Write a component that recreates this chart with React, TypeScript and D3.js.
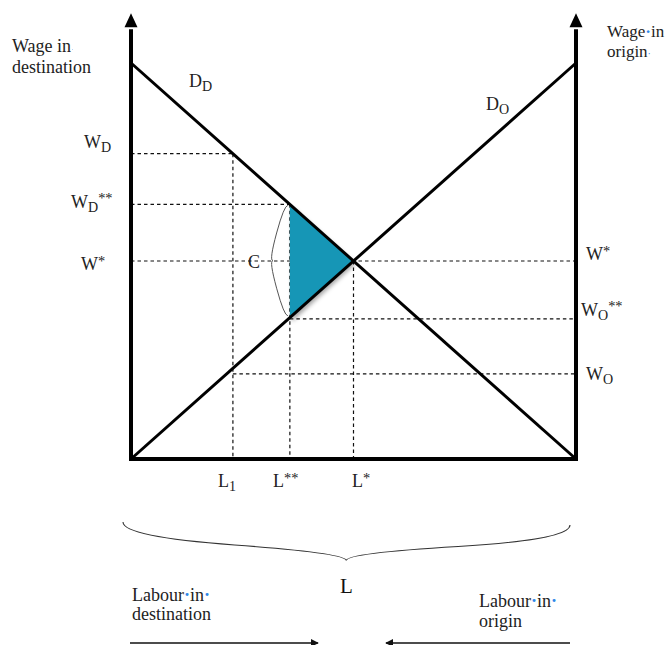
import React from "react";
import * as d3 from "d3";

// ---------- data ----------
const demandDest: [number, number][] = [[0, 1], [1, 0]];
const demandOrigin: [number, number][] = [[0, 0], [1, 1]];

const labourLevels = [0.229, 0.357, 0.5]; // L1, L**, L*
const labourNames = ["L", "L", "L"];
const labourSubs = ["1", "", ""];
const labourSups = ["", "**", "*"];

const destWages = [0.771, 0.643, 0.5]; // W_D, W_D**, W*
const destSubs = ["D", "D", ""];
const destSups = ["", "**", "*"];

const originWages = [0.5, 0.354, 0.215]; // W*, W_O**, W_O
const originSubs = ["", "O", "O"];
const originSups = ["*", "**", ""];

// dashed guide segments: wage level, labour from, labour to
const hDashWage = [0.771, 0.643, 0.5, 0.354, 0.215];
const hDashFrom = [0, 0, 0, 0.357, 0.229];
const hDashTo = [0.229, 0.357, 1, 1, 1];
// vertical guides: labour level, top wage
const vDashLabour = [0.229, 0.357, 0.5];
const vDashTop = [0.771, 0.643, 0.5];

// shaded triangle (L**,W_D**), (L*,W*), (L**,W_O**)
const triangle: [number, number][] = [[0.357, 0.643], [0.5, 0.5], [0.357, 0.354]];

// ---------- helpers ----------
function curlyBrace(x1: number, y1: number, x2: number, y2: number, w: number, q: number) {
  let dx = x1 - x2;
  let dy = y1 - y2;
  const len = Math.sqrt(dx * dx + dy * dy);
  dx /= len;
  dy /= len;
  const qx1 = x1 + q * w * dy;
  const qy1 = y1 - q * w * dx;
  const qx2 = x1 - 0.25 * len * dx + (1 - q) * w * dy;
  const qy2 = y1 - 0.25 * len * dy - (1 - q) * w * dx;
  const tx1 = x1 - 0.5 * len * dx + w * dy;
  const ty1 = y1 - 0.5 * len * dy - w * dx;
  const qx3 = x2 + q * w * dy;
  const qy3 = y2 - q * w * dx;
  const qx4 = x1 - 0.75 * len * dx + (1 - q) * w * dy;
  const qy4 = y1 - 0.75 * len * dy - (1 - q) * w * dx;
  return `M${x1},${y1} Q${qx1},${qy1} ${qx2},${qy2} T${tx1},${ty1} M${x2},${y2} Q${qx3},${qy3} ${qx4},${qy4} T${tx1},${ty1}`;
}

const FONT = "'Liberation Serif', 'DejaVu Serif', serif";
const BLUE = "#2f86e8";

function Label({ x, y, base, sub, sup, size = 18 }: { x: number; y: number; base: string; sub?: string; sup?: string; size?: number }) {
  return (
    <text x={x} y={y} fontFamily={FONT} fontSize={size} fill="#222">
      {base}
      {sub ? (
        <tspan fontSize={size * 0.78} dy={4}>{sub}</tspan>
      ) : null}
      {sup ? (
        <tspan fontSize={size * 0.8} dy={sub ? -9 : -4}>{sup}</tspan>
      ) : null}
    </text>
  );
}

export default function App() {
  const x = d3.scaleLinear().domain([0, 1]).range([131, 576]);
  const y = d3.scaleLinear().domain([0, 1]).range([459, 63]);
  const line = d3.line<[number, number]>().x((d) => x(d[0])).y((d) => y(d[1]));
  const axisTop = 1.09;

  const destLabelPos = [
    { lx: 84, dy: -6 },
    { lx: 71, dy: 4 },
    { lx: 81, dy: 9 },
  ];
  const originLabelPos = [
    { lx: 586, dy: -1 },
    { lx: 581, dy: -3 },
    { lx: 586, dy: 6 },
  ];
  const labourLabelX = [218, 273, 352];

  const tri = d3.line<[number, number]>().x((d) => x(d[0])).y((d) => y(d[1]))(triangle) + "Z";

  return (
    <svg width={672} height={645} style={{ position: "absolute", left: 0, top: 0, background: "#fff" }}>
      <defs>
        <filter id="shadow" x="-20%" y="-20%" width="150%" height="150%">
          <feDropShadow dx="2" dy="3" stdDeviation="2" floodColor="#000" floodOpacity="0.35" />
        </filter>
        <marker id="arrowR" viewBox="0 0 10 10" refX="9" refY="5" markerWidth="8" markerHeight="8" orient="auto" markerUnits="userSpaceOnUse">
          <path d="M0,0 L10,5 L0,10 z" fill="#111" />
        </marker>
      </defs>

      {/* dashed guides */}
      <g stroke="#111" strokeWidth={1.2} strokeDasharray="3.5,3">
        {hDashWage.map((w, i) => (
          <line key={"h" + i} x1={x(hDashFrom[i])} x2={x(hDashTo[i])} y1={y(w)} y2={y(w)} />
        ))}
        {vDashLabour.map((l, i) => (
          <line key={"v" + i} x1={x(l)} x2={x(l)} y1={y(vDashTop[i])} y2={y(0)} />
        ))}
      </g>

      {/* shaded triangle */}
      <path d={tri} fill="#1796b6" filter="url(#shadow)" />

      {/* demand curves */}
      <path d={line(demandDest) || ""} stroke="#000" strokeWidth={3} fill="none" />
      <path d={line(demandOrigin) || ""} stroke="#000" strokeWidth={3} fill="none" />

      {/* axes */}
      <g stroke="#000" strokeWidth={4}>
        <line x1={x(0)} x2={x(0)} y1={y(0) + 2} y2={y(axisTop) + 2} />
        <line x1={x(1)} x2={x(1)} y1={y(0) + 2} y2={y(axisTop) + 2} />
        <line x1={x(0)} x2={x(1) + 2} y1={y(0)} y2={y(0)} />
      </g>
      <path d={`M${x(0)},${y(axisTop) - 14} L${x(0) + 6.5},${y(axisTop)} L${x(0) - 6.5},${y(axisTop)} Z`} fill="#000" />
      <path d={`M${x(1)},${y(axisTop) - 14} L${x(1) + 6.5},${y(axisTop)} L${x(1) - 6.5},${y(axisTop)} Z`} fill="#000" />

      {/* C brace */}
      <path
        d={curlyBrace(x(triangle[0][0]) - 2, y(triangle[0][1]) + 1, x(triangle[2][0]) - 2, y(triangle[2][1]) - 3, 15, 0.25)}
        fill="none"
        stroke="#555"
        strokeWidth={1}
      />
      <text x={248} y={268} fontFamily={FONT} fontSize={18} fill="#222">C</text>

      {/* curve labels */}
      <Label x={189} y={87} base="D" sub="D" />
      <Label x={486} y={110} base="D" sub="O" />

      {/* destination wage labels */}
      {destWages.map((w, i) => (
        <Label key={"dw" + i} x={destLabelPos[i].lx} y={y(w) + destLabelPos[i].dy} base="W" sub={destSubs[i]} sup={destSups[i]} />
      ))}
      {/* origin wage labels */}
      {originWages.map((w, i) => (
        <Label key={"ow" + i} x={originLabelPos[i].lx} y={y(w) + originLabelPos[i].dy} base="W" sub={originSubs[i]} sup={originSups[i]} />
      ))}
      {/* labour labels */}
      {labourLevels.map((l, i) => (
        <Label key={"l" + i} x={labourLabelX[i]} y={487} base={labourNames[i]} sub={labourSubs[i]} sup={labourSups[i]} />
      ))}

      {/* axis titles */}
      <text fontFamily={FONT} fontSize={18} fill="#222">
        <tspan x={12} y={52}>Wage in</tspan>
        <tspan fill={BLUE} fontSize={9} opacity={0.5}>·</tspan>
        <tspan x={12} y={73}>destination</tspan>
      </text>
      <text fontFamily={FONT} fontSize={17} fill="#222">
        <tspan x={607} y={37}>Wage</tspan>
        <tspan fill={BLUE} fontWeight="bold">·</tspan>
        <tspan>in</tspan>
        <tspan x={607} y={57}>origin</tspan>
        <tspan fill={BLUE} fontSize={10}>·</tspan>
      </text>

      {/* bottom brace */}
      <path d={curlyBrace(123, 522, 570, 525, 37, 0.4)} fill="none" stroke="#333" strokeWidth={1.1} />
      <text x={340} y={593} fontFamily={FONT} fontSize={21} fill="#111">L</text>

      <text fontFamily={FONT} fontSize={18} fill="#222">
        <tspan x={132} y={601}>Labour</tspan>
        <tspan fill={BLUE} fontWeight="bold">·</tspan>
        <tspan>in</tspan>
        <tspan fill={BLUE} fontWeight="bold">·</tspan>
        <tspan x={132} y={620}>destination</tspan>
      </text>
      <text fontFamily={FONT} fontSize={18} fill="#222">
        <tspan x={479} y={607}>Labour</tspan>
        <tspan fill={BLUE} fontWeight="bold">·</tspan>
        <tspan>in</tspan>
        <tspan fill={BLUE} fontWeight="bold">·</tspan>
        <tspan x={479} y={627}>origin</tspan>
      </text>

      {/* direction arrows */}
      <line x1={130} x2={318} y1={643} y2={643} stroke="#111" strokeWidth={1.5} markerEnd="url(#arrowR)" />
      <line x1={570} x2={386} y1={643} y2={643} stroke="#111" strokeWidth={1.5} markerEnd="url(#arrowR)" />
    </svg>
  );
}
